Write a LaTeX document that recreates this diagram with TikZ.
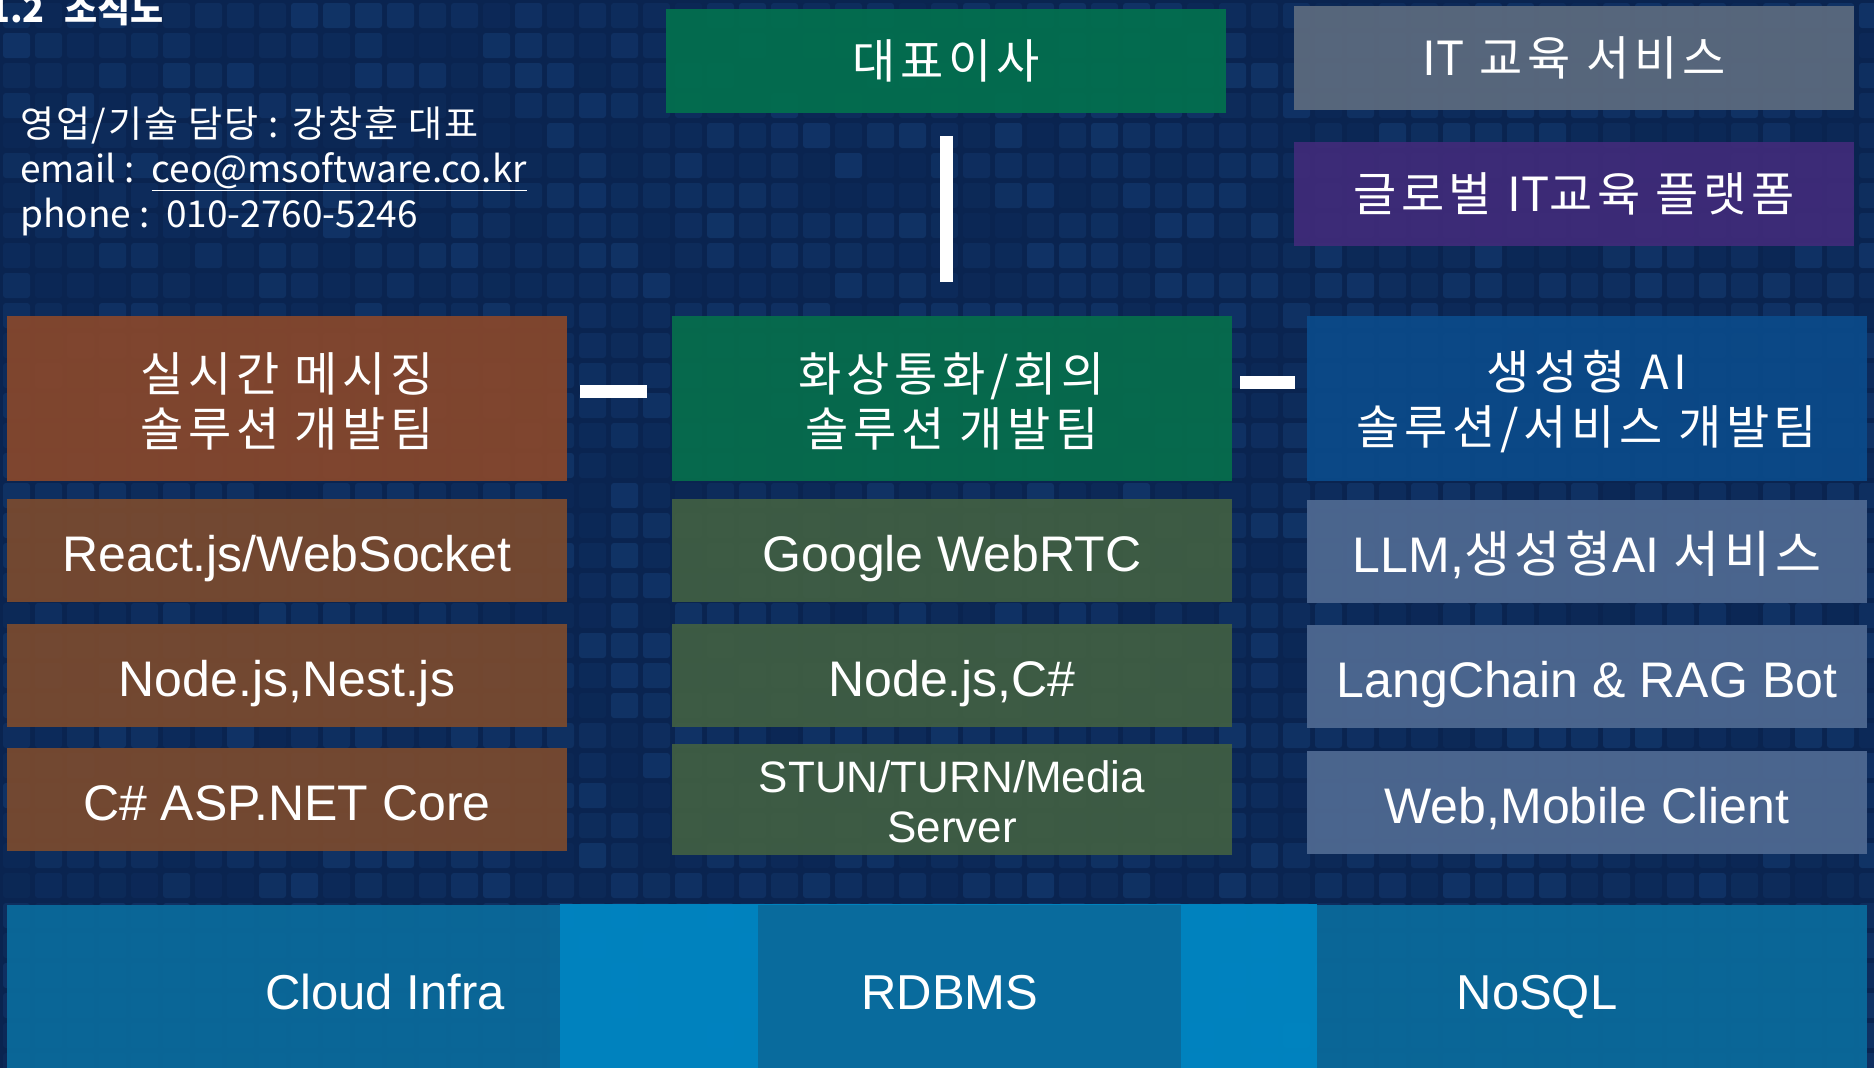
\documentclass[tikz,border=0pt]{standalone}
\usepackage{fontspec}
\setmainfont{Liberation Sans}
\newfontfamily\kr{Noto Sans CJK KR}
\newfontfamily\krw[LetterSpace=10]{Noto Sans CJK KR}
\newfontfamily\krc[LetterSpace=5]{Noto Sans CJK KR}
\newcommand\tdrop[1]{\rule{0pt}{#1}}

\definecolor{bgnavy}{HTML}{0A2450}
\definecolor{tileblue}{HTML}{1B4C8A}
\definecolor{ceogreen}{HTML}{036F4E}
\definecolor{itgray}{HTML}{5B6A7E}
\definecolor{globpurple}{HTML}{3F2B79}
\definecolor{msgbrown}{HTML}{86472C}
\definecolor{msgrow}{HTML}{794A2F}
\definecolor{vidgreen}{HTML}{066D4C}
\definecolor{vidrow}{HTML}{405E43}
\definecolor{aiblue}{HTML}{0B4A89}
\definecolor{airow}{HTML}{4E6991}
\definecolor{infradark}{HTML}{0A6A9B}
\definecolor{infralight}{HTML}{0088C5}

\tikzset{
  box/.style={inner sep=0pt, text=white, align=center, fill opacity=0.94, text opacity=1},
  topbox/.style={box, minimum width=560pt, minimum height=104pt, font=\krw\fontsize{47}{54}\selectfont},
  teambox/.style={box, minimum width=560pt, minimum height=165pt, font=\krw\fontsize{47}{55}\selectfont},
  techbox/.style={box, minimum width=560pt, minimum height=103pt, font=\fontsize{50}{54}\selectfont,
    execute at begin node={\rule[-12pt]{0pt}{66pt}}},
  infrabox/.style={box, minimum height=164pt},
  infratext/.style={text=white, inner sep=0pt, text depth=0pt, font=\fontsize{49}{52}\selectfont},
  conn/.style={draw=white, line width=13pt},
}

\begin{document}
\begin{tikzpicture}[x=1pt,y=-1pt]
\useasboundingbox (0,0) rectangle (1874,1068);
\fill[bgnavy] (0,0) rectangle (1874,1068);

% tiles in the back
\pgfmathsetseed{11}
\foreach \i in {0,...,58}
  \foreach \j in {0,...,35}{
    \pgfmathsetmacro\op{0.08+0.3*rnd}
    \fill[tileblue, fill opacity=\op, rounded corners=3pt] (\i*32+3,\j*30+3) rectangle ++(27,25);
  }

% heading and contact
\node[anchor=base west, inner sep=0pt, text=white, font=\kr\bfseries\fontsize{36}{40}\selectfont] (ttl) at (-12,22) {1.2\hspace{20pt}조직도};
\node[anchor=north west, inner sep=0pt, text=white, align=left, font=\kr\fontsize{37}{45}\selectfont] (contact) at (20,106)
  {{\krc 영업/기술 담당 : 강창훈 대표}\\email :\ \ \underline{ceo@msoftware.co.kr}\\phone :\ \ 010-2760-5246};

% top row
\node[topbox,fill=ceogreen] (ceo) at (946,61) {대표이사};
\node[topbox,fill=itgray] (itedu) at (1574,58) {{\kr IT} 교육 서비스};
\node[topbox,fill=globpurple] (globedu) at (1574,194) {글로벌 {\kr IT}교육 플랫폼};

% teams
\node[teambox,fill=msgbrown] (msg) at (287,398) {\tdrop{46pt}실시간 메시징\\솔루션 개발팀};
\node[teambox,fill=vidgreen] (vid) at (952,398) {\tdrop{46pt}화상통화/회의\\솔루션 개발팀};
\node[teambox,fill=aiblue] (ai) at (1587,398) {\tdrop{46pt}생성형 AI\\솔루션/서비스 개발팀};

% tech stacks
\node[techbox,fill=msgrow] (msg1) at (287,550) {React.js/WebSocket};
\node[techbox,fill=msgrow] (msg2) at (287,675) {Node.js,Nest.js};
\node[techbox,fill=msgrow] (msg3) at (287,799) {C\# ASP.NET Core};
\node[techbox,fill=vidrow] (vid1) at (952,550) {Google WebRTC};
\node[techbox,fill=vidrow] (vid2) at (952,675) {Node.js,C\#};
\node[techbox,fill=vidrow,font=\fontsize{44}{50}\selectfont,execute at begin node={}] (vid3) at (952,799) {\tdrop{49pt}STUN/TURN/Media\\Server};
\node[techbox,fill=airow] (ai1) at (1587,551) {LLM,{\krw 생성형}AI {\krw 서비스}};
\node[techbox,fill=airow] (ai2) at (1587,676) {LangChain \& RAG Bot};
\node[techbox,fill=airow] (ai3) at (1587,802) {Web,Mobile Client};

% connectors
\draw[conn] ([yshift=-23pt]ceo.south) -- ([yshift=33pt]ceo.south |- vid.north);
\draw[conn] ([shift={(13,-7)}]msg.east) -- ([shift={(-25,-7)}]vid.west);
\draw[conn] ([shift={(8,-16)}]vid.east) -- ([shift={(-12,-16)}]ai.west);

% infra band
\node[infrabox,fill=infralight,minimum width=757pt] (band) at (938.5,986) {};
\node[infrabox,fill=infradark,minimum width=553pt] (cloud) at (283.5,987) {};
\node[infrabox,fill=infradark,minimum width=423pt] (rdbms) at (969.5,987) {};
\node[infrabox,fill=infradark,minimum width=550pt] (nosql) at (1592,987) {};
\node[infratext] (cloudtxt) at (385,992) {Cloud Infra};
\node[infratext] (rdbmstxt) at (950,992) {RDBMS};
\node[infratext] (nosqltxt) at (1537,992) {NoSQL};
\end{tikzpicture}
\end{document}
